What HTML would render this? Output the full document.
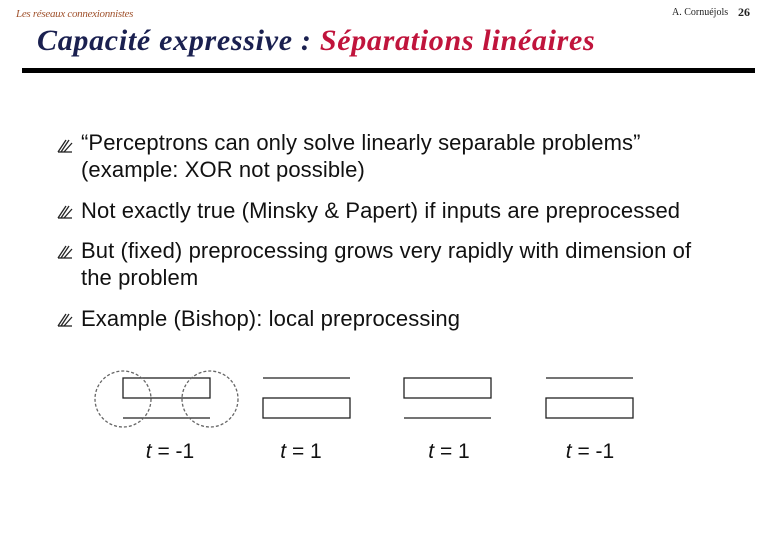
<!DOCTYPE html>
<html><head><meta charset="utf-8"><style>
body{margin:0;width:780px;height:540px;background:#fff;position:relative;overflow:hidden}
div{position:absolute;white-space:nowrap}
.t{font-family:"Liberation Sans",Arial,sans-serif;font-size:22px;color:#111;left:81px;letter-spacing:0.1px}
</style></head><body>
<div style="left:16px;top:8px;font:italic 11px 'Liberation Serif',serif;color:#a0522d;letter-spacing:-0.3px">Les réseaux connexionnistes</div>
<div style="left:672px;top:7px;font:10px 'Liberation Serif',serif;color:#222">A. Cornuéjols</div>
<div style="left:738px;top:5px;font:bold 12px 'Liberation Serif',serif;color:#222">26</div>
<div style="left:37px;top:24px;font:italic bold 30px 'Liberation Serif',serif;color:#1a2050;letter-spacing:0.7px">Capacité expressive : <span style="color:#c0143c">Séparations linéaires</span></div>
<div style="left:22px;top:68px;width:733px;height:5px;background:#000"></div>

<svg style="position:absolute;left:0;top:0" width="780" height="540">
<g stroke="#222" stroke-width="1.3" fill="none">
<g id="bl"><line x1="58" y1="152" x2="66" y2="140"/><line x1="61" y1="152" x2="69" y2="140"/><line x1="64" y1="152" x2="72" y2="143"/><line x1="58" y1="152" x2="72" y2="152"/></g>
<use href="#bl" y="66"/><use href="#bl" y="106"/><use href="#bl" y="174"/>
<rect x="123" y="378" width="87" height="20"/><line x1="123" y1="418" x2="210" y2="418"/>
<line x1="263" y1="378" x2="350" y2="378"/><rect x="263" y="398" width="87" height="20"/>
<rect x="404" y="378" width="87" height="20"/><line x1="404" y1="418" x2="491" y2="418"/>
<line x1="546" y1="378" x2="633" y2="378"/><rect x="546" y="398" width="87" height="20"/>
<circle cx="123" cy="399" r="28" stroke="#666" stroke-dasharray="3,2"/>
<circle cx="210" cy="399" r="28" stroke="#666" stroke-dasharray="3,2"/>
</g>
<g font-family="Liberation Sans,Arial,sans-serif" font-size="21" fill="#111" text-anchor="middle">
<text x="170" y="458"><tspan font-style="italic">t</tspan> = -1</text>
<text x="301" y="458"><tspan font-style="italic">t</tspan> = 1</text>
<text x="449" y="458"><tspan font-style="italic">t</tspan> = 1</text>
<text x="590" y="458"><tspan font-style="italic">t</tspan> = -1</text>
</g>
</svg>

<div class="t" style="top:130px">“Perceptrons can only solve linearly separable problems”</div>
<div class="t" style="top:157px">(example: XOR not possible)</div>
<div class="t" style="top:198px">Not exactly true (Minsky &amp; Papert) if inputs are preprocessed</div>
<div class="t" style="top:238px">But (fixed) preprocessing grows very rapidly with dimension of</div>
<div class="t" style="top:265px">the problem</div>
<div class="t" style="top:306px">Example (Bishop): local preprocessing</div>
</body></html>
